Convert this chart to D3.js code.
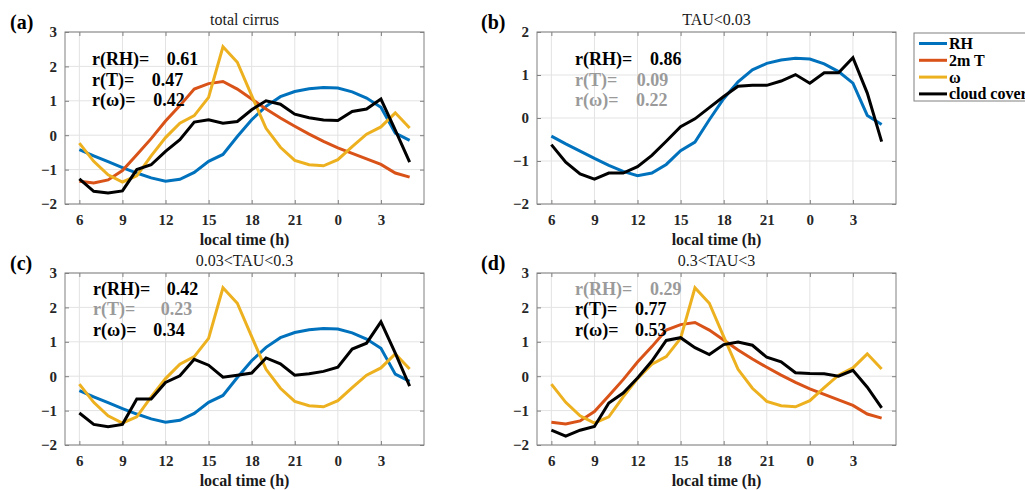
<!DOCTYPE html>
<html>
<head>
<meta charset="utf-8">
<script src="https://cdn.jsdelivr.net/npm/d3@7"></script>
<style>
  html, body { margin: 0; padding: 0; background: #fff; }
  svg { display: block; font-family: "Liberation Serif", "Times New Roman", serif; }
</style>
</head>
<body>
<svg id="chart" width="1025" height="490"></svg>
<script>
// Local hour of each sample (6 = 06:00, 24 = 00:00 next day, 29 = 05:00)
const hours = [6,7,8,9,10,11,12,13,14,15,16,17,18,19,20,21,22,23,24,25,26,27,28,29];
const xTicks = [6,9,12,15,18,21,24,27];
const xTickLabels = ["6","9","12","15","18","21","0","3"];

// Standardised anomalies of the meteorological drivers
const rh    = [-0.42,-0.60,-0.77,-0.94,-1.10,-1.24,-1.34,-1.28,-1.08,-0.76,-0.56,-0.04,0.45,0.84,1.12,1.27,1.35,1.39,1.37,1.26,1.08,0.81,0.06,-0.15];
const t2m   = [-1.34,-1.39,-1.30,-1.03,-0.57,-0.10,0.41,0.86,1.34,1.50,1.56,1.34,1.05,0.76,0.50,0.26,0.03,-0.18,-0.37,-0.53,-0.69,-0.85,-1.10,-1.22];
const omega = [-0.23,-0.76,-1.15,-1.36,-1.18,-0.60,-0.07,0.35,0.57,1.10,2.57,2.12,1.15,0.20,-0.35,-0.73,-0.86,-0.89,-0.71,-0.33,0.03,0.24,0.65,0.21];

// Standardised cirrus cloud cover for each optical-depth class
const cloudTotal = [-1.27,-1.63,-1.68,-1.62,-1.00,-0.86,-0.47,-0.13,0.38,0.45,0.35,0.40,0.74,1.00,0.90,0.61,0.51,0.44,0.43,0.69,0.76,1.05,0.15,-0.78];
const cloudThin  = [-0.62,-1.03,-1.30,-1.42,-1.28,-1.28,-1.13,-0.87,-0.54,-0.20,-0.02,0.24,0.50,0.74,0.76,0.76,0.86,1.01,0.81,1.05,1.05,1.40,0.58,-0.55];
const cloudMid   = [-1.07,-1.40,-1.47,-1.40,-0.66,-0.66,-0.18,0.01,0.49,0.32,-0.03,0.03,0.09,0.53,0.36,0.03,0.07,0.14,0.26,0.79,0.96,1.58,0.67,-0.29];
const cloudThick = [-1.57,-1.74,-1.57,-1.46,-0.78,-0.49,-0.05,0.44,1.04,1.12,0.83,0.63,0.92,0.99,0.90,0.55,0.42,0.10,0.08,0.07,0.00,0.17,-0.32,-0.92];

// Correlations with cloud cover (RH, T, omega) and whether each is significant
const panelTitles = ["total cirrus", "TAU<0.03", "0.03<TAU<0.3", "0.3<TAU<3"];
const panelTags = ["(a)", "(b)", "(c)", "(d)"];
const corrValues = [[0.61,0.47,0.42],[0.86,0.09,0.22],[0.42,0.23,0.34],[0.29,0.77,0.53]];
const corrSignificant = [[true,true,true],[true,false,false],[true,false,true],[false,true,true]];
const corrNames = ["r(RH)=", "r(T)=", "r(\u03c9)="];
const yMax = [3, 2, 3, 3];

const seriesNames = ["RH", "2m T", "\u03c9", "cloud cover"];
const colors = ["#0072BD", "#D95319", "#EDB120", "#000000"];

const svg = d3.select("#chart");

const panels = [
  { x0: 65,  x1: 424, y0: 32,  y1: 204, series: [rh, t2m, omega, cloudTotal], show: [1,1,1,1],
    tx: 92,  vx: [166.7, 151.7, 153.3], ty: 59, tagX: 10 },
  { x0: 537, x1: 896, y0: 32,  y1: 204, series: [rh, t2m, omega, cloudThin], show: [1,0,0,1],
    tx: 575, vx: [650, 636.7, 636], ty: 59, tagX: 481 },
  { x0: 65,  x1: 424, y0: 273, y1: 445, series: [rh, t2m, omega, cloudMid], show: [1,0,1,1],
    tx: 93,  vx: [166.7, 160.7, 153.3], ty: 288.5, tagX: 10 },
  { x0: 537, x1: 896, y0: 273, y1: 445, series: [rh, t2m, omega, cloudThick], show: [0,1,1,1],
    tx: 575, vx: [650, 635, 635], ty: 288.5, tagX: 481 }
];

panels.forEach((p, i) => {
  const x = d3.scaleLinear().domain([5, 30]).range([p.x0, p.x1]);
  const y = d3.scaleLinear().domain([-2, yMax[i]]).range([p.y1, p.y0]);
  const yTicks = d3.range(-2, yMax[i] + 1);
  const g = svg.append("g");

  // grid
  g.selectAll(".gx").data(xTicks).join("line")
    .attr("x1", d => x(d)).attr("x2", d => x(d))
    .attr("y1", p.y0).attr("y2", p.y1)
    .attr("stroke", "#e3e3e3").attr("stroke-width", 1);
  g.selectAll(".gy").data(yTicks).join("line")
    .attr("x1", p.x0).attr("x2", p.x1)
    .attr("y1", d => y(d)).attr("y2", d => y(d))
    .attr("stroke", "#e3e3e3").attr("stroke-width", 1);

  // axes with inward ticks
  const axB = d3.axisBottom(x).tickValues(xTicks).tickFormat((d, k) => xTickLabels[k]).tickSizeInner(-4).tickSizeOuter(0).tickPadding(10);
  const axT = d3.axisTop(x).tickValues(xTicks).tickFormat("").tickSizeInner(-4).tickSizeOuter(0);
  const axL = d3.axisLeft(y).tickValues(yTicks).tickFormat(d3.format("d")).tickSizeInner(-4).tickSizeOuter(0).tickPadding(8);
  const axR = d3.axisRight(y).tickValues(yTicks).tickFormat("").tickSizeInner(-4).tickSizeOuter(0);

  [[axB, `translate(0,${p.y1})`], [axT, `translate(0,${p.y0})`], [axL, `translate(${p.x0},0)`], [axR, `translate(${p.x1},0)`]]
    .forEach(([ax, tr]) => {
      const a = g.append("g").attr("transform", tr).call(ax);
      a.select(".domain").remove();
      a.selectAll(".tick line").attr("stroke", "#808080");
      a.selectAll(".tick text").attr("fill", "#262626")
        .style("font-family", "Liberation Serif, serif")
        .style("font-size", "15px").style("font-weight", "bold");
    });

  g.append("rect")
    .attr("x", p.x0).attr("y", p.y0)
    .attr("width", p.x1 - p.x0).attr("height", p.y1 - p.y0)
    .attr("fill", "none").attr("stroke", "#808080").attr("stroke-width", 1);

  // series
  const line = d3.line().x((d, k) => x(hours[k])).y(d => y(d));
  p.series.forEach((s, k) => {
    if (!p.show[k]) return;
    g.append("path").datum(s)
      .attr("d", line)
      .attr("fill", "none")
      .attr("stroke", colors[k])
      .attr("stroke-width", 3)
      .attr("stroke-linejoin", "miter");
  });

  // correlation annotations
  corrNames.forEach((name, k) => {
    const fill = corrSignificant[i][k] ? "#000" : "#9a9a9a";
    const yy = p.ty + k * 20.5 + 6;
    g.append("text").attr("x", p.tx).attr("y", yy)
      .attr("fill", fill).style("font-size", "18px").style("font-weight", "bold")
      .text(name);
    g.append("text").attr("x", p.vx[k]).attr("y", yy)
      .attr("fill", fill).style("font-size", "18px").style("font-weight", "bold")
      .text(corrValues[i][k].toFixed(2));
  });

  // title, axis label, panel tag
  g.append("text").attr("x", (p.x0 + p.x1) / 2).attr("y", p.y0 - 7)
    .attr("text-anchor", "middle").attr("fill", "#1a1a1a")
    .style("font-size", "16px").text(panelTitles[i]);
  g.append("text").attr("x", (p.x0 + p.x1) / 2).attr("y", p.y1 + 41)
    .attr("text-anchor", "middle").attr("fill", "#1a1a1a")
    .style("font-size", "16px").style("font-weight", "bold").text("local time (h)");
  g.append("text").attr("x", p.tagX).attr("y", p.y0 - 3)
    .attr("fill", "#000").style("font-size", "20px").style("font-weight", "bold")
    .text(panelTags[i]);
});

// legend
const lg = svg.append("g");
lg.append("rect").attr("x", 914).attr("y", 33).attr("width", 140).attr("height", 68)
  .attr("fill", "#fff").attr("stroke", "#808080").attr("stroke-width", 1);
seriesNames.forEach((name, k) => {
  const yy = 43.5 + k * 16.8;
  lg.append("line").attr("x1", 919).attr("x2", 947).attr("y1", yy).attr("y2", yy)
    .attr("stroke", colors[k]).attr("stroke-width", 3);
  lg.append("text").attr("x", 949).attr("y", yy + 5.5)
    .attr("fill", "#000").style("font-size", "16px").style("font-weight", "bold")
    .text(name);
});
</script>
</body>
</html>
